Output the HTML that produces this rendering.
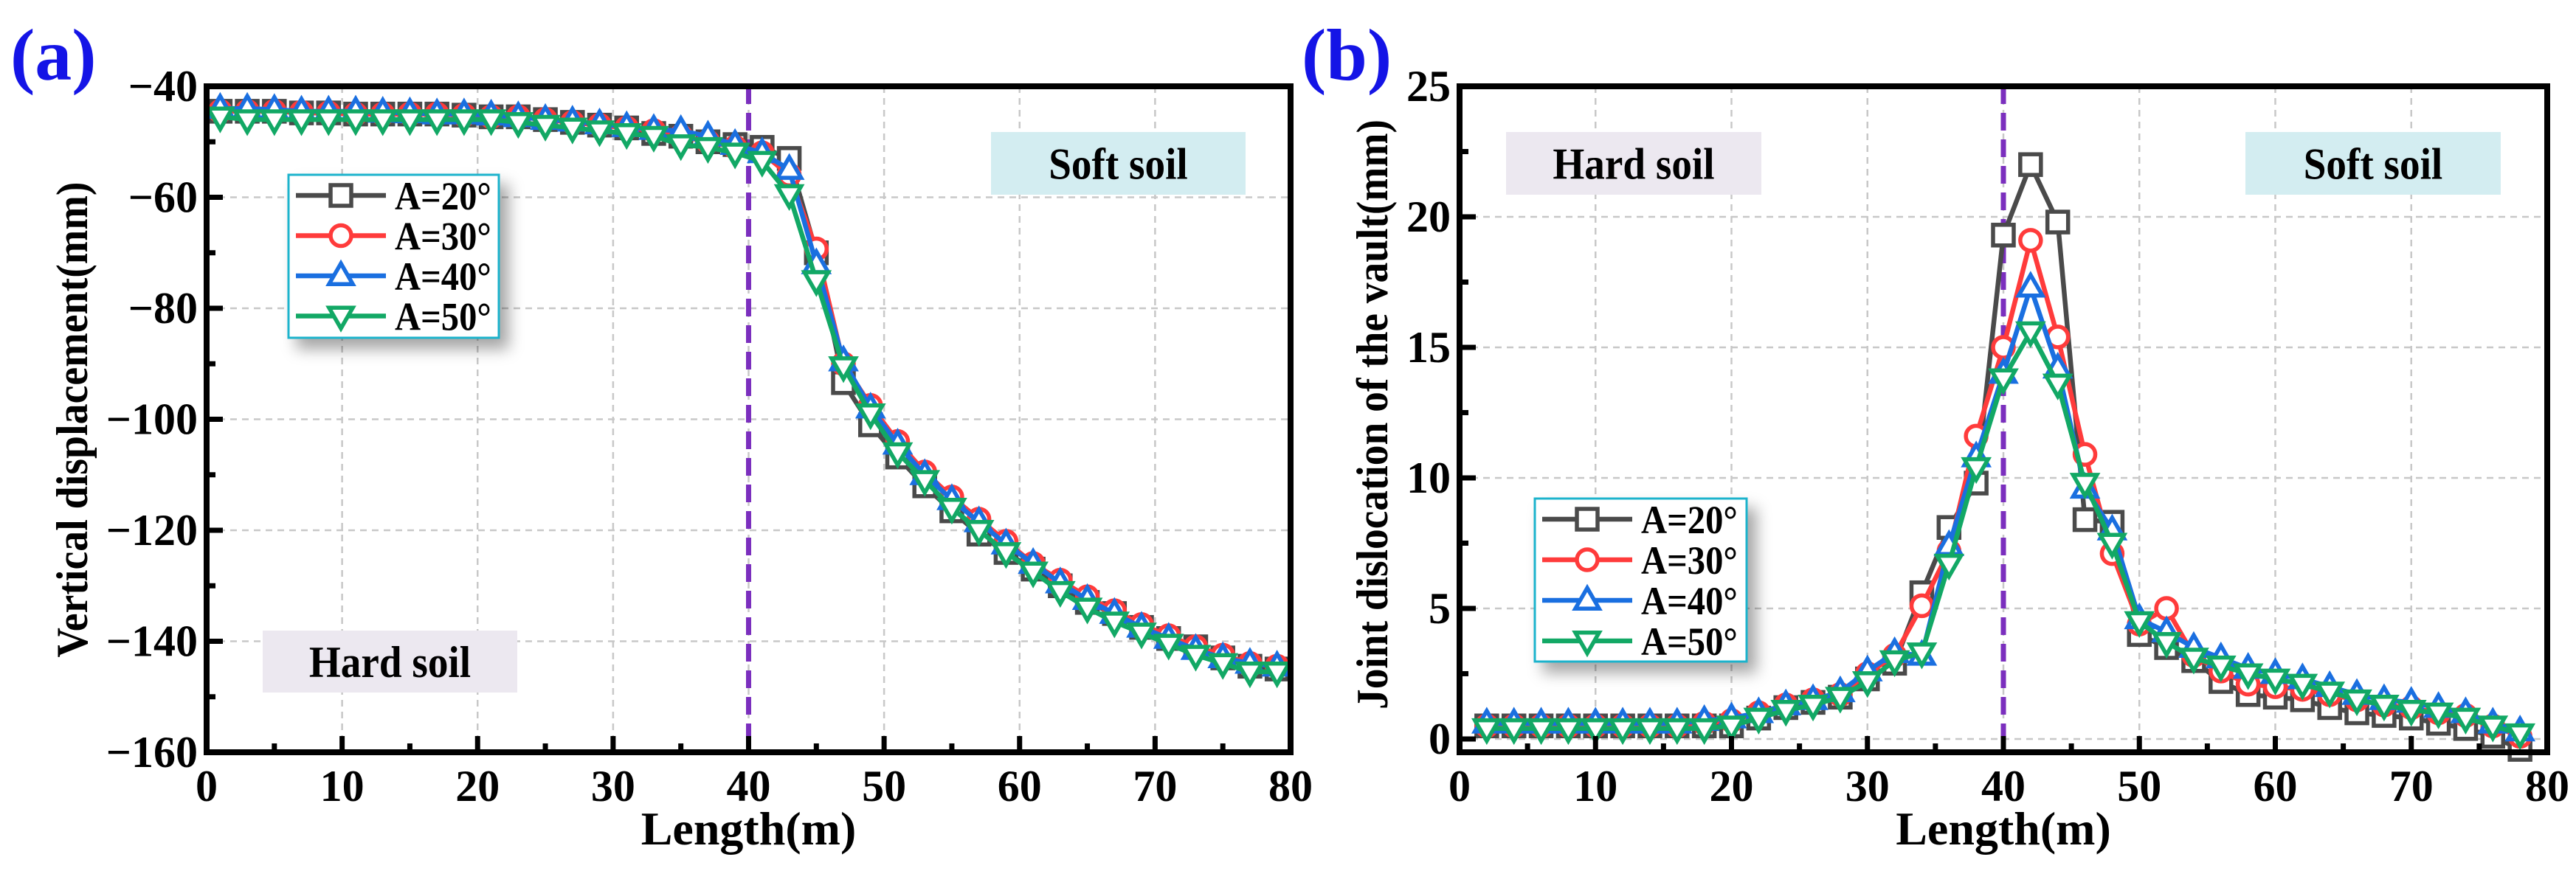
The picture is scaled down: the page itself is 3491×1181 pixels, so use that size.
<!DOCTYPE html>
<html><head><meta charset="utf-8">
<style>
html,body{margin:0;padding:0;background:#fff;}
svg{display:block;font-family:"Liberation Serif",serif;font-weight:bold;}
</style></head>
<body>
<svg id="fig" width="3491" height="1181" viewBox="0 0 3491 1181" xmlns="http://www.w3.org/2000/svg">
<defs>
<filter id="sh" x="-20%" y="-20%" width="150%" height="150%"><feDropShadow dx="12" dy="14" stdDeviation="10" flood-color="#000" flood-opacity="0.35"/></filter>
</defs>
</svg>
<script>
// ---- Panel (a) data ----
const xA = [1,3,5,7,9,11,13,15,17,19,21,23,25,27,29,31,33,35,37,39,41,43,45,47,49,51,53,55,57,59,61,63,65,67,69,71,73,75,77,79];
const a20 = [-44.5,-44.5,-44.5,-44.8,-44.8,-45,-45,-45,-45,-45.2,-45.5,-45.5,-46,-46.5,-47,-47.5,-48.5,-49,-50,-50.5,-51,-53,-70,-93.4,-101,-106.8,-112,-116.5,-120.7,-124,-127,-130,-133,-135,-137.5,-139.5,-141,-143,-144.5,-145];
const a30 = [-44.5,-44.5,-44.5,-44.7,-44.8,-45,-45,-45,-45,-45.2,-45.5,-45.5,-46,-46.5,-47,-47.5,-48,-49,-50,-51,-52,-56,-69.3,-90,-97.5,-104,-109.5,-114,-118,-122,-126,-129,-132,-134.5,-137,-139,-141,-142.5,-144,-144.5];
const a40 = [-44,-44,-44.2,-44.5,-44.5,-44.5,-44.7,-44.8,-45,-45,-45.2,-45.5,-46,-46.3,-46.8,-47.3,-47.8,-48,-49,-50.5,-52,-55,-72,-89.5,-98,-104.5,-110,-114.5,-118.5,-122.5,-126,-129.5,-132.5,-135,-137.5,-139.5,-141.5,-143,-144,-144.5];
const a50 = [-45.5,-46,-46,-46,-46,-46,-46,-46,-46,-46,-46,-46.5,-47,-47.5,-48,-48.5,-49,-50.5,-51,-52,-53.5,-59.5,-75,-90.5,-99,-106,-111,-116,-120,-124,-127.5,-131,-134,-136.5,-138.5,-140.5,-142.5,-144,-145.5,-145.5];
const xTicksA = [0,10,20,30,40,50,60,70,80];
const yTicksA = [-160,-140,-120,-100,-80,-60,-40];
// ---- Panel (b) data ----
const xB = [2,4,6,8,10,12,14,16,18,20,22,24,26,28,30,32,34,36,38,40,42,44,46,48,50,52,54,56,58,60,62,64,66,68,70,72,74,76,78];
const b20 = [0.5,0.5,0.5,0.5,0.5,0.5,0.5,0.5,0.5,0.5,0.8,1.2,1.4,1.6,2.3,2.9,5.6,8.1,9.8,19.3,22.0,19.8,8.4,8.3,4.0,3.5,3.0,2.2,1.7,1.6,1.5,1.2,1.0,0.9,0.8,0.6,0.4,0.1,-0.4];
const b30 = [0.5,0.5,0.5,0.5,0.5,0.5,0.5,0.5,0.6,0.7,1.0,1.3,1.5,1.7,2.5,3.2,5.1,7.2,11.6,15.0,19.1,15.4,10.9,7.1,4.4,5.0,3.2,2.6,2.1,2.0,1.9,1.7,1.5,1.3,1.2,1.0,0.9,0.5,0.1];
const b40 = [0.6,0.6,0.6,0.6,0.6,0.6,0.6,0.6,0.7,0.8,1.0,1.3,1.5,1.8,2.6,3.3,3.2,7.4,10.8,14.0,17.3,14.2,9.6,8.0,4.6,4.1,3.5,3.1,2.7,2.5,2.3,2.0,1.7,1.5,1.4,1.2,1.0,0.6,0.3];
const b50 = [0.4,0.4,0.4,0.4,0.4,0.4,0.4,0.4,0.4,0.5,0.8,1.1,1.3,1.6,2.2,3.0,3.3,6.7,10.4,13.8,15.6,13.6,9.8,7.5,4.5,3.7,3.1,2.8,2.5,2.3,2.1,1.8,1.5,1.3,1.1,1.0,0.8,0.5,0.2];
const xTicksB = [0,10,20,30,40,50,60,70,80];
const yTicksB = [0,5,10,15,20,25];
const seriesNames = ["A=20°","A=30°","A=40°","A=50°"];
const colors = ["#4a4a4a","#ff3b3b","#1a6fe0","#12a865"];
const markers = ["square","circle","up","down"];

const NS = "http://www.w3.org/2000/svg";
const svg = document.getElementById("fig");
function el(tag, attrs, parent, text){
  const e = document.createElementNS(NS, tag);
  for (const k in attrs) e.setAttribute(k, attrs[k]);
  if (text !== undefined) e.textContent = text;
  (parent || svg).appendChild(e);
  return e;
}
function marker(g, type, cx, cy, col, r){
  let m;
  if (type === "square") m = el("rect",{x:cx-r,y:cy-r,width:2*r,height:2*r},g);
  else if (type === "circle") m = el("circle",{cx:cx,cy:cy,r:r},g);
  else if (type === "up") m = el("polygon",{points:`${cx},${cy-r*1.2} ${cx-r*1.15},${cy+r*0.8} ${cx+r*1.15},${cy+r*0.8}`},g);
  else m = el("polygon",{points:`${cx},${cy+r*1.2} ${cx-r*1.15},${cy-r*0.8} ${cx+r*1.15},${cy-r*0.8}`},g);
  m.setAttribute("fill","#fff"); m.setAttribute("stroke",col); m.setAttribute("stroke-width","5.5");
  
  
  return m;
}

function panel(cfg){
  const {L,R,T,B,xmin,xmax,ymin,ymax,xTicks,yTicks,xMinorStep,yMinorStep,xs,ys,name} = cfg;
  const sx = v => L + (v - xmin) / (xmax - xmin) * (R - L);
  const sy = v => B - (v - ymin) / (ymax - ymin) * (B - T);
  const g = el("g",{});
  
  
  const grid = el("g",{stroke:"#c8c8c8","stroke-width":"2.5","stroke-dasharray":"9,7"},g);
  
  
  xTicks.forEach(t=>{ if(t>xmin&&t<xmax) el("line",{x1:sx(t),x2:sx(t),y1:T,y2:B},grid); });
  yTicks.forEach(t=>{ if(t>ymin&&t<ymax) el("line",{x1:L,x2:R,y1:sy(t),y2:sy(t)},grid); });
  cfg.boxes.forEach(b=>{
    const r = el("rect",{x:b.x,y:b.y,width:b.w,height:b.h,fill:b.fill},g);
    
    
    const t = el("text",{x:b.x+b.w/2,y:b.y+b.h/2+21,"text-anchor":"middle","font-size":"60",fill:"#000",transform:`translate(${b.x+b.w/2} 0) scale(0.92 1) translate(${-(b.x+b.w/2)} 0)`},g,b.text);
    
    
  });
  const dv = el("line",{x1:sx(40),x2:sx(40),y1:T,y2:B,stroke:"#7b2fbe","stroke-width":"7","stroke-dasharray":"24,12"},g);
  
  
  ys.forEach((arr,i)=>{
    const sg = el("g",{},g);
    
    
    const pts = arr.map((v,j)=>sx(xs[j])+","+sy(v)).join(" ");
    const pl = el("polyline",{points:pts,fill:"none",stroke:colors[i],"stroke-width":"6.5","stroke-linejoin":"round"},sg);
    
    
    arr.forEach((v,j)=>marker(sg, markers[i], sx(xs[j]), sy(v), colors[i], 14));
  });
  const fr = el("rect",{x:L,y:T,width:R-L,height:B-T,fill:"none",stroke:"#000","stroke-width":"8"},g);
  
  
  const tk = el("g",{stroke:"#000","stroke-width":"7"},g);
  
  
  for(let v=xmin; v<=xmax+1e-9; v+=xMinorStep){ const maj = xTicks.includes(v); el("line",{x1:sx(v),x2:sx(v),y1:B,y2:B-(maj?22:12)},tk); }
  for(let v=Math.ceil(ymin/yMinorStep)*yMinorStep; v<=ymax+1e-9; v+=yMinorStep){ const maj = yTicks.includes(Math.round(v*10)/10); el("line",{x1:L,x2:L+(maj?22:12),y1:sy(v),y2:sy(v)},tk); }
  xTicks.forEach(t=>{
    const e = el("text",{x:sx(t),y:B+66,"text-anchor":"middle","font-size":"60"},g,String(t));
    
    
  });
  yTicks.forEach(t=>{
    const e = el("text",{x:L-12,y:sy(t)+20,"text-anchor":"end","font-size":"60"},g,String(t).replace("-","\u2212"));
    
    
  });
  const xt = el("text",{x:(L+R)/2,y:1145,"text-anchor":"middle","font-size":"64"},g,"Length(m)");
  
  
  const yt = el("text",{x:cfg.ytx,y:cfg.ytc,"text-anchor":"middle","font-size":"60",textLength:cfg.ytlen,lengthAdjust:"spacingAndGlyphs",transform:`rotate(-90 ${cfg.ytx} ${cfg.ytc})`},g,cfg.ytitle);
  
  
  const lg = el("g",{},g);
  
  
  const lb = el("rect",{x:cfg.leg.x,y:cfg.leg.y,width:cfg.leg.w,height:cfg.leg.h,fill:"#fff",stroke:"#1eb3cc","stroke-width":"3",filter:"url(#sh)"},lg);
  
  
  seriesNames.forEach((s,i)=>{
    const y = cfg.leg.y + 28 + i*cfg.leg.step;
    const le = el("g",{},lg);
    
    
    el("line",{x1:cfg.leg.x+10,x2:cfg.leg.x+132,y1:y,y2:y,stroke:colors[i],"stroke-width":"6.5"},le);
    marker(le, markers[i], cfg.leg.x+71, y, colors[i], 14);
    el("text",{x:cfg.leg.x+144,y:y+19,"font-size":"54",transform:`translate(${cfg.leg.x+144} 0) scale(0.9 1) translate(${-(cfg.leg.x+144)} 0)`},le,s);
  });
  const pl = el("text",{x:cfg.lab.x,y:cfg.lab.y,"font-size":"100",fill:"#1414e6"},svg,cfg.lab.t);
  
  
}

panel({name:"panel-a",L:280,R:1749,T:117,B:1020,xmin:0,xmax:80,ymin:-160,ymax:-40,
  xTicks:xTicksA,yTicks:yTicksA,xMinorStep:5,yMinorStep:10,xs:xA,ys:[a20,a30,a40,a50],
  ytx:118,ytc:569,ytlen:645,ytitle:"Vertical displacement(mm)",
  boxes:[{name:"soft-soil-label",x:1343,y:179,w:345,h:85,fill:"#d3edf1",text:"Soft soil"},
         {name:"hard-soil-label",x:356,y:855,w:345,h:84,fill:"#ece8f0",text:"Hard soil"}],
  leg:{x:391,y:237,w:285,h:221,step:54.5},
  lab:{x:14,y:108,t:"(a)"}});

panel({name:"panel-b",L:1978,R:3452,T:117,B:1020,xmin:0,xmax:80,ymin:-0.51,ymax:25,
  xTicks:xTicksB,yTicks:yTicksB,xMinorStep:5,yMinorStep:2.5,xs:xB,ys:[b20,b30,b40,b50],
  ytx:1880,ytc:562,ytlen:800,ytitle:"Joint dislocation of the vault(mm)",
  boxes:[{name:"hard-soil-label",x:2041,y:179,w:346,h:85,fill:"#ece8f0",text:"Hard soil"},
         {name:"soft-soil-label",x:3043,y:179,w:346,h:85,fill:"#d3edf1",text:"Soft soil"}],
  leg:{x:2080,y:676,w:287,h:221,step:55},
  lab:{x:1764,y:108,t:"(b)"}});
</script>
</body></html>
